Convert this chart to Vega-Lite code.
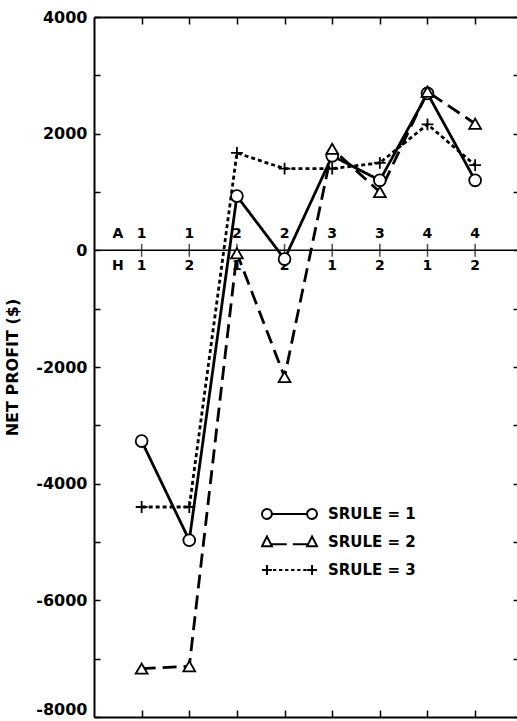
{
  "$schema": "https://vega.github.io/schema/vega-lite/v6.json",
  "width": 424,
  "height": 700,
  "autosize": {"type": "none"},
  "padding": {"left": 94, "top": 17, "right": 0, "bottom": 4},
  "background": "white",
  "config": {
    "view": {"stroke": null},
    "font": "DejaVu Sans",
    "axis": {
      "domainColor": "black",
      "domainWidth": 2,
      "tickColor": "black",
      "tickWidth": 1.5,
      "grid": false,
      "labelColor": "black",
      "titleColor": "black"
    }
  },
  "datasets": {
    "pts": [
      {"srule": "SRULE = 1", "A": 1, "H": 1, "idx": 1, "profit": -3270},
      {"srule": "SRULE = 1", "A": 1, "H": 2, "idx": 2, "profit": -4970},
      {"srule": "SRULE = 1", "A": 2, "H": 1, "idx": 3, "profit": 930},
      {"srule": "SRULE = 1", "A": 2, "H": 2, "idx": 4, "profit": -150},
      {"srule": "SRULE = 1", "A": 3, "H": 1, "idx": 5, "profit": 1620},
      {"srule": "SRULE = 1", "A": 3, "H": 2, "idx": 6, "profit": 1200},
      {"srule": "SRULE = 1", "A": 4, "H": 1, "idx": 7, "profit": 2690},
      {"srule": "SRULE = 1", "A": 4, "H": 2, "idx": 8, "profit": 1200},
      {"srule": "SRULE = 2", "A": 1, "H": 1, "idx": 1, "profit": -7170},
      {"srule": "SRULE = 2", "A": 1, "H": 2, "idx": 2, "profit": -7130},
      {"srule": "SRULE = 2", "A": 2, "H": 1, "idx": 3, "profit": -50},
      {"srule": "SRULE = 2", "A": 2, "H": 2, "idx": 4, "profit": -2170},
      {"srule": "SRULE = 2", "A": 3, "H": 1, "idx": 5, "profit": 1740},
      {"srule": "SRULE = 2", "A": 3, "H": 2, "idx": 6, "profit": 1000},
      {"srule": "SRULE = 2", "A": 4, "H": 1, "idx": 7, "profit": 2720},
      {"srule": "SRULE = 2", "A": 4, "H": 2, "idx": 8, "profit": 2170},
      {"srule": "SRULE = 3", "A": 1, "H": 1, "idx": 1, "profit": -4400},
      {"srule": "SRULE = 3", "A": 1, "H": 2, "idx": 2, "profit": -4400},
      {"srule": "SRULE = 3", "A": 2, "H": 1, "idx": 3, "profit": 1670},
      {"srule": "SRULE = 3", "A": 2, "H": 2, "idx": 4, "profit": 1400},
      {"srule": "SRULE = 3", "A": 3, "H": 1, "idx": 5, "profit": 1400},
      {"srule": "SRULE = 3", "A": 3, "H": 2, "idx": 6, "profit": 1500},
      {"srule": "SRULE = 3", "A": 4, "H": 1, "idx": 7, "profit": 2160},
      {"srule": "SRULE = 3", "A": 4, "H": 2, "idx": 8, "profit": 1460}
    ],
    "cats": [
      {"idx": 0.5, "A": "A", "H": "H", "tick": false},
      {"idx": 1, "A": "1", "H": "1", "tick": true},
      {"idx": 2, "A": "1", "H": "2", "tick": true},
      {"idx": 3, "A": "2", "H": "1", "tick": true},
      {"idx": 4, "A": "2", "H": "2", "tick": true},
      {"idx": 5, "A": "3", "H": "1", "tick": true},
      {"idx": 6, "A": "3", "H": "2", "tick": true},
      {"idx": 7, "A": "4", "H": "1", "tick": true},
      {"idx": 8, "A": "4", "H": "2", "tick": true}
    ],
    "zero": [{"v": 0}]
  },
  "layer": [
    {
      "data": {"name": "zero"},
      "mark": {"type": "rule", "color": "black", "strokeWidth": 1.5},
      "encoding": {
        "y": {"field": "v", "type": "quantitative", "axis": null}
      }
    },
    {
      "data": {"name": "cats"},
      "transform": [{"filter": "datum.tick"}],
      "mark": {"type": "tick", "orient": "vertical", "color": "black", "size": 13, "thickness": 1.5},
      "encoding": {
        "x": {"field": "idx", "type": "quantitative", "axis": null},
        "y": {"datum": 0, "type": "quantitative", "axis": null}
      }
    },
    {
      "data": {"name": "cats"},
      "mark": {"type": "text", "color": "black", "fontSize": 14, "fontWeight": "bold", "font": "DejaVu Sans", "baseline": "alphabetic", "dy": -12},
      "encoding": {
        "x": {"field": "idx", "type": "quantitative", "axis": null},
        "y": {"datum": 0, "type": "quantitative", "axis": null},
        "text": {"field": "A"}
      }
    },
    {
      "data": {"name": "cats"},
      "mark": {"type": "text", "color": "black", "fontSize": 14, "fontWeight": "bold", "font": "DejaVu Sans", "baseline": "alphabetic", "dy": 20},
      "encoding": {
        "x": {"field": "idx", "type": "quantitative", "axis": null},
        "y": {"datum": 0, "type": "quantitative", "axis": null},
        "text": {"field": "H"}
      }
    },
    {
      "data": {"name": "pts"},
      "mark": {"type": "line", "color": "black", "strokeWidth": 2.8},
      "encoding": {
        "x": {
          "field": "idx", "type": "quantitative",
          "scale": {"domain": [0, 8.9], "nice": false, "zero": false},
          "axis": {"orient": "bottom", "values": [1, 2, 3, 4, 5, 6, 7, 8], "labels": false, "tickSize": -7, "title": null, "domain": true}
        },
        "y": {
          "field": "profit", "type": "quantitative",
          "scale": {"domain": [-8000, 4000], "nice": false, "zero": false},
          "axis": {
            "orient": "left",
            "values": [-8000, -7000, -6000, -5000, -4000, -3000, -2000, -1000, 0, 1000, 2000, 3000, 4000],
            "labelExpr": "datum.value % 2000 == 0 ? '' + datum.value : ''",
            "labelFont": "DejaVu Sans", "labelFontSize": 16, "labelFontWeight": "bold",
            "labelBaseline": {"condition": {"test": "datum.value == -8000", "value": "bottom"}, "value": "middle"},
            "tickSize": -6, "labelPadding": 13,
            "title": "NET PROFIT ($)", "titleFont": "DejaVu Sans", "titleFontSize": 16, "titleFontWeight": "bold",
            "titlePadding": 15
          }
        },
        "detail": {"field": "srule"},
        "strokeDash": {
          "field": "srule", "type": "nominal",
          "scale": {"domain": ["SRULE = 1", "SRULE = 2", "SRULE = 3"], "range": [[1, 0], [14, 7], [4, 3]]},
          "legend": null
        }
      }
    },
    {
      "data": {"name": "pts"},
      "mark": {"type": "point", "filled": false, "fill": "white", "fillOpacity": 1, "stroke": "black", "strokeWidth": 1.8, "size": 140, "opacity": 1},
      "encoding": {
        "x": {
          "field": "idx", "type": "quantitative",
          "axis": {"orient": "top", "values": [1, 2, 3, 4, 5, 6, 7, 8], "labels": false, "tickSize": -7, "title": null, "domain": true}
        },
        "y": {
          "field": "profit", "type": "quantitative",
          "axis": {"orient": "right", "values": [-8000, -7000, -6000, -5000, -4000, -3000, -2000, -1000, 0, 1000, 2000, 3000, 4000], "labels": false, "tickSize": -5, "title": null, "domain": true}
        },
        "shape": {
          "field": "srule", "type": "nominal",
          "scale": {"domain": ["SRULE = 1", "SRULE = 2", "SRULE = 3"], "range": ["circle", "triangle-up", "M -1 0 L 1 0 M 0 -1 L 0 1"]},
          "legend": null
        }
      }
    },
    {
      "data": {"name": "pts"},
      "mark": {"type": "point", "filled": false, "opacity": 0, "size": 3025},
      "encoding": {
        "x": {"field": "idx", "type": "quantitative", "axis": null},
        "y": {"field": "profit", "type": "quantitative", "axis": null},
        "shape": {
          "field": "srule", "type": "nominal",
          "scale": {
            "domain": ["SRULE = 1", "SRULE = 2", "SRULE = 3"],
            "range": [
              "M -0.64 0 A 0.18 0.18 0 1 1 -1 0 A 0.18 0.18 0 1 1 -0.64 0 Z M -0.64 0 L 0.64 0 M 1 0 A 0.18 0.18 0 1 1 0.64 0 A 0.18 0.18 0 1 1 1 0 Z",
              "M -1 0.15 L -0.64 0.15 L -0.82 -0.2 Z M -0.68 0.08 L -0.1 0.08 M 0.12 0.08 L 0.68 0.08 M 0.64 0.15 L 1 0.15 L 0.82 -0.2 Z",
              "M -1 0 L -0.64 0 M -0.82 -0.18 L -0.82 0.18 M -0.6 0 L -0.48 0 M -0.38 0 L -0.26 0 M -0.16 0 L -0.04 0 M 0.06 0 L 0.18 0 M 0.28 0 L 0.4 0 M 0.5 0 L 0.62 0 M 0.64 0 L 1 0 M 0.82 -0.18 L 0.82 0.18"
            ]
          },
          "legend": {
            "orient": "none", "legendX": 167, "legendY": 487,
            "title": null, "padding": 0,
            "symbolOpacity": 1, "symbolStrokeColor": "black", "symbolFillColor": "white", "symbolStrokeWidth": 2,
            "symbolSize": 3025, "clipHeight": 20, "rowPadding": 8,
            "labelFont": "DejaVu Sans", "labelFontSize": 15, "labelFontWeight": "bold", "labelColor": "black",
            "labelOffset": 10, "labelLimit": 300
          }
        }
      }
    }
  ],
  "resolve": {
    "axis": {"x": "independent", "y": "independent"},
    "scale": {"shape": "independent"},
    "legend": {"shape": "independent"}
  }
}
